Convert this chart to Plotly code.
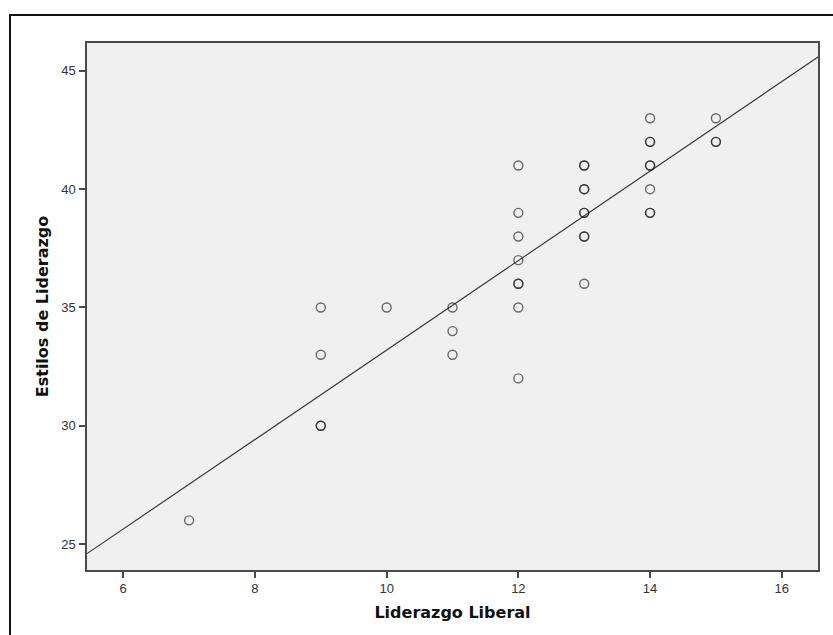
import numpy as np
import plotly.graph_objects as go

# Data (duplicates = darker/bolder circles)
liderazgo_liberal = [7,
                     9, 9, 9, 9,
                     10,
                     11, 11, 11,
                     12, 12, 12, 12, 12, 12, 12, 12,
                     13, 13, 13, 13, 13, 13, 13, 13, 13,
                     14, 14, 14, 14, 14, 14, 14, 14,
                     15, 15, 15]
estilos_liderazgo = [26,
                     35, 33, 30, 30,
                     35,
                     35, 34, 33,
                     41, 39, 38, 37, 36, 36, 35, 32,
                     41, 41, 40, 40, 39, 39, 38, 38, 36,
                     43, 42, 42, 41, 41, 40, 39, 39,
                     43, 42, 42]

x_ticks = [6, 8, 10, 12, 14, 16]
y_ticks = [25, 30, 35, 40, 45]
x_range = [5.45, 16.55]
y_range = [23.9, 46.18]

slope, intercept = np.polyfit(liderazgo_liberal, estilos_liderazgo, 1)
fit_x = np.array(x_range)
fit_y = slope * fit_x + intercept

fig = go.Figure()
fig.add_trace(go.Scatter(
    x=fit_x, y=fit_y, mode="lines",
    line=dict(color="#3a3a3a", width=1.2),
    hoverinfo="skip", showlegend=False))
fig.add_trace(go.Scatter(
    x=liderazgo_liberal, y=estilos_liderazgo, mode="markers",
    marker=dict(symbol="circle-open", size=9,
                line=dict(color="rgba(30,30,30,0.65)", width=1.4),
                color="rgba(30,30,30,0.65)"),
    showlegend=False))

W, H = 833, 635
L, R, T, B = 87, 818, 43, 570
pw, ph = R - L, B - T

axis_common = dict(showgrid=False, zeroline=False, showline=True, mirror=True,
                   linecolor="#4a4a4a", linewidth=1.5,
                   ticks="outside", ticklen=6, tickwidth=1.5, tickcolor="#4a4a4a",
                   tickfont=dict(family="Liberation Sans, Arial, sans-serif", size=13, color="#333333"))

title_font = dict(family="DejaVu Sans, Verdana, sans-serif", size=16, color="#111111")

fig.update_layout(
    width=W, height=H,
    margin=dict(l=L, r=W - R, t=T, b=H - B),
    paper_bgcolor="white", plot_bgcolor="#f0f0f0",
    xaxis=dict(range=x_range, tickvals=x_ticks, **axis_common,
               title=dict(text="<b>Liderazgo Liberal</b>", standoff=11, font=title_font)),
    yaxis=dict(range=y_range, tickvals=y_ticks, **axis_common, ticklabelstandoff=1,
               title=dict(text="<b>Estilos de Liderazgo</b>", standoff=9, font=title_font)),
    shapes=[dict(type="rect", xref="paper", yref="paper",
                 x0=(10 - L) / pw, x1=(845 - L) / pw,
                 y0=(B - 650) / ph, y1=(B - 15) / ph,
                 line=dict(color="#111111", width=2), fillcolor="rgba(0,0,0,0)", layer="below")],
)

fig.write_html("out.html", config={"displayModeBar": False},
               post_script="document.body.style.margin='0';document.body.style.overflow='hidden';")
